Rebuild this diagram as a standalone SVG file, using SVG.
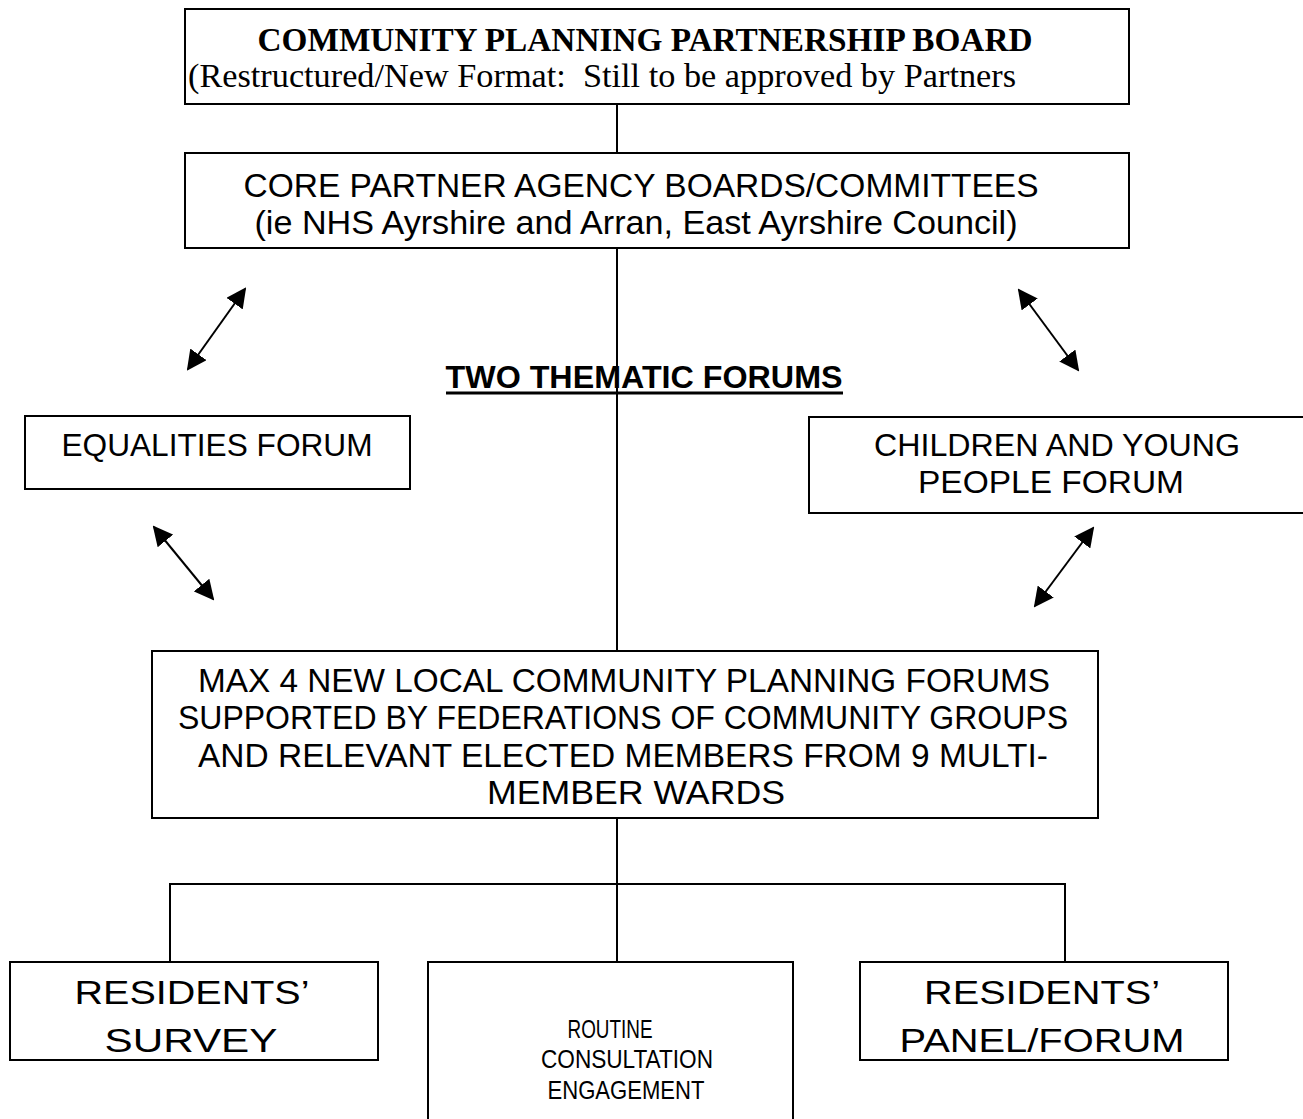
<svg xmlns="http://www.w3.org/2000/svg" width="1303" height="1119" viewBox="0 0 1303 1119">
<style>
.box{fill:#fff;stroke:#000;stroke-width:2}
.ln{fill:none;stroke:#000;stroke-width:2}
.t{font-family:"Liberation Sans",Arial,sans-serif;font-size:31px;fill:#000;text-anchor:middle}
.c{font-family:"Liberation Sans",Arial,sans-serif;font-size:34px;fill:#000;text-anchor:middle}
.s{font-family:"Liberation Sans",Arial,sans-serif;font-size:25px;fill:#000;text-anchor:middle}
.sb{font-family:"Liberation Serif","Times New Roman",serif;font-size:33px;fill:#000;text-anchor:middle}
</style>
<defs>
<marker id="ah2" viewBox="0 0 10 10" refX="9" refY="5" markerWidth="20" markerHeight="20" markerUnits="userSpaceOnUse" orient="auto-start-reverse"><path d="M0,0 L10,5 L0,10 z" fill="#000"/></marker>
</defs>
<g id="connectors">
<line class="ln" x1="617" y1="104" x2="617" y2="152"/>
<line class="ln" x1="617" y1="248" x2="617" y2="651"/>
<line class="ln" x1="617" y1="818" x2="617" y2="962"/>
<polyline class="ln" points="170,962 170,884 1065,884 1065,962"/>
<line class="ln" x1="245" y1="289" x2="188" y2="369" marker-start="url(#ah2)" marker-end="url(#ah2)"/>
<line class="ln" x1="1019" y1="290" x2="1078" y2="370" marker-start="url(#ah2)" marker-end="url(#ah2)"/>
<line class="ln" x1="154" y1="527" x2="213" y2="599" marker-start="url(#ah2)" marker-end="url(#ah2)"/>
<line class="ln" x1="1093" y1="528" x2="1035" y2="606" marker-start="url(#ah2)" marker-end="url(#ah2)"/>
</g>
<g id="board">
<rect class="box" x="185" y="9" width="944" height="95"/>
<text class="sb" x="645" y="51" font-weight="bold" textLength="775" lengthAdjust="spacingAndGlyphs">COMMUNITY PLANNING PARTNERSHIP BOARD</text>
<text class="sb" x="602" y="87" textLength="828" lengthAdjust="spacingAndGlyphs" xml:space="preserve">(Restructured/New Format:  Still to be approved by Partners</text>
</g>
<g id="core">
<rect class="box" x="185" y="153" width="944" height="95"/>
<text class="c" x="641" y="197" textLength="795" lengthAdjust="spacingAndGlyphs">CORE PARTNER AGENCY BOARDS/COMMITTEES</text>
<text class="c" x="636" y="234" textLength="763" lengthAdjust="spacingAndGlyphs">(ie NHS Ayrshire and Arran, East Ayrshire Council)</text>
</g>
<g id="thematic">
<text class="t" x="644" y="388" font-weight="bold" textLength="397" lengthAdjust="spacingAndGlyphs">TWO THEMATIC FORUMS</text>
<line x1="446" y1="393" x2="843" y2="393" stroke="#000" stroke-width="3"/>
</g>
<g id="equalities">
<rect class="box" x="25" y="416" width="385" height="73"/>
<text class="t" x="217" y="456" textLength="311" lengthAdjust="spacingAndGlyphs">EQUALITIES FORUM</text>
</g>
<g id="children">
<rect class="box" x="809" y="417" width="500" height="96"/>
<text class="t" x="1057" y="456" textLength="366" lengthAdjust="spacingAndGlyphs">CHILDREN AND YOUNG</text>
<text class="t" x="1051" y="493" textLength="266" lengthAdjust="spacingAndGlyphs">PEOPLE FORUM</text>
</g>
<g id="local">
<rect class="box" x="152" y="651" width="946" height="167"/>
<text class="c" x="624" y="692" textLength="852" lengthAdjust="spacingAndGlyphs">MAX 4 NEW LOCAL COMMUNITY PLANNING FORUMS</text>
<text class="c" x="623" y="729" textLength="890" lengthAdjust="spacingAndGlyphs">SUPPORTED BY FEDERATIONS OF COMMUNITY GROUPS</text>
<text class="c" x="623" y="767" textLength="850" lengthAdjust="spacingAndGlyphs">AND RELEVANT ELECTED MEMBERS FROM 9 MULTI-</text>
<text class="c" x="636" y="804" textLength="298" lengthAdjust="spacingAndGlyphs">MEMBER WARDS</text>
</g>
<g id="survey">
<rect class="box" x="10" y="962" width="368" height="98"/>
<text class="c" x="192" y="1004" textLength="235" lengthAdjust="spacingAndGlyphs">RESIDENTS’</text>
<text class="c" x="191" y="1052" textLength="173" lengthAdjust="spacingAndGlyphs">SURVEY</text>
</g>
<g id="routine">
<rect class="box" x="428" y="962" width="365" height="160"/>
<text class="s" x="610" y="1038" textLength="85" lengthAdjust="spacingAndGlyphs">ROUTINE</text>
<text class="s" x="627" y="1068" textLength="172" lengthAdjust="spacingAndGlyphs">CONSULTATION</text>
<text class="s" x="626" y="1099" textLength="157" lengthAdjust="spacingAndGlyphs">ENGAGEMENT</text>
</g>
<g id="panel">
<rect class="box" x="860" y="962" width="368" height="98"/>
<text class="c" x="1042" y="1004" textLength="236" lengthAdjust="spacingAndGlyphs">RESIDENTS’</text>
<text class="c" x="1042" y="1052" textLength="285" lengthAdjust="spacingAndGlyphs">PANEL/FORUM</text>
</g>
</svg>
